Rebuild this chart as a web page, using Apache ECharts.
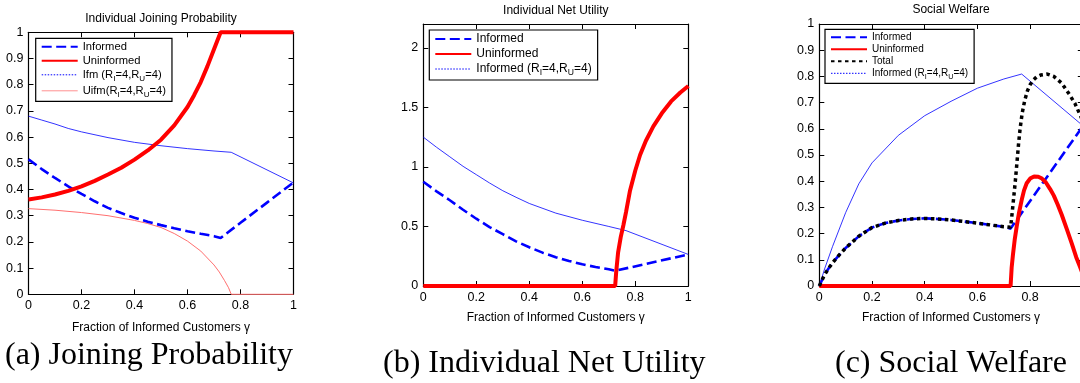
<!DOCTYPE html>
<html>
<head>
<meta charset="utf-8">
<script src="https://cdn.jsdelivr.net/npm/echarts@6/dist/echarts.min.js"></script>
<style>
  html, body { margin: 0; padding: 0; background: #fff; }
  #chart { width: 1080px; height: 383px; }
</style>
</head>
<body>
<div id="chart"></div>
<script>
// ---- (a) Individual joining probability ----
const aInformedX   = [0, 0.05, 0.1, 0.15, 0.2, 0.25, 0.3, 0.35, 0.4, 0.45, 0.5, 0.55, 0.6, 0.65, 0.7, 0.725, 0.8, 0.9, 1];
const aInformedY   = [0.515, 0.478, 0.444, 0.412, 0.383, 0.355, 0.33, 0.31, 0.292, 0.277, 0.264, 0.252, 0.241, 0.231, 0.222, 0.215, 0.273, 0.35, 0.427];
const aUninfX      = [0, 0.05, 0.1, 0.15, 0.2, 0.25, 0.3, 0.35, 0.4, 0.45, 0.5, 0.55, 0.6, 0.625, 0.65, 0.675, 0.7, 0.725, 1];
const aUninfY      = [0.362, 0.37, 0.381, 0.395, 0.412, 0.433, 0.457, 0.483, 0.514, 0.549, 0.59, 0.645, 0.715, 0.76, 0.81, 0.87, 0.935, 1, 1];
const aIfmX        = [0, 0.05, 0.1, 0.15, 0.2, 0.3, 0.4, 0.5, 0.6, 0.7, 0.765, 1];
const aIfmY        = [0.68, 0.665, 0.65, 0.633, 0.62, 0.598, 0.58, 0.567, 0.556, 0.547, 0.542, 0.425];
const aUifmX       = [0, 0.1, 0.2, 0.3, 0.4, 0.45, 0.5, 0.55, 0.6, 0.65, 0.7, 0.72, 0.74, 0.755, 0.765, 1];
const aUifmY       = [0.327, 0.321, 0.312, 0.3, 0.282, 0.27, 0.255, 0.232, 0.203, 0.165, 0.112, 0.085, 0.052, 0.025, 0, 0];

// ---- (b) Individual net utility ----
const bInformedX   = [0, 0.05, 0.1, 0.15, 0.2, 0.25, 0.3, 0.35, 0.4, 0.45, 0.5, 0.55, 0.6, 0.65, 0.7, 0.725, 1];
const bInformedY   = [0.875, 0.795, 0.72, 0.64, 0.565, 0.495, 0.435, 0.375, 0.325, 0.28, 0.242, 0.21, 0.182, 0.16, 0.14, 0.128, 0.265];
const bUninfX      = [0, 0.724, 0.728, 0.735, 0.745, 0.755, 0.765, 0.78, 0.8, 0.818, 0.84, 0.868, 0.9, 0.935, 0.97, 1];
const bUninfY      = [0, 0, 0.12, 0.28, 0.41, 0.51, 0.62, 0.8, 0.97, 1.1, 1.22, 1.34, 1.45, 1.55, 1.625, 1.68];
const bIfmX        = [0, 0.05, 0.1, 0.15, 0.2, 0.25, 0.3, 0.35, 0.4, 0.5, 0.6, 0.7, 0.765, 1];
const bIfmY        = [1.25, 1.165, 1.085, 1.005, 0.935, 0.865, 0.8, 0.745, 0.693, 0.612, 0.552, 0.5, 0.465, 0.265];

// ---- (c) Social welfare ----
const cInformedX   = [0, 0.01, 0.02, 0.035, 0.05, 0.075, 0.1, 0.15, 0.2, 0.25, 0.3, 0.35, 0.4, 0.45, 0.5, 0.6, 0.7, 0.726, 1];
const cInformedY   = [0, 0.022, 0.043, 0.067, 0.088, 0.118, 0.145, 0.19, 0.223, 0.24, 0.25, 0.256, 0.258, 0.256, 0.252, 0.24, 0.226, 0.219, 0.61];
const cUninfX      = [0, 0.726, 0.73, 0.735, 0.742, 0.749, 0.758, 0.768, 0.777, 0.787, 0.8, 0.815, 0.831, 0.845, 0.86, 0.876, 0.89, 0.905, 0.92, 0.94, 0.958, 0.975, 0.989, 1];
const cUninfY      = [0, 0, 0.07, 0.12, 0.18, 0.226, 0.28, 0.328, 0.365, 0.392, 0.41, 0.418, 0.417, 0.41, 0.395, 0.37, 0.345, 0.31, 0.272, 0.215, 0.163, 0.11, 0.074, 0.045];
const cTotalX      = [0, 0.01, 0.02, 0.035, 0.05, 0.075, 0.1, 0.15, 0.2, 0.25, 0.3, 0.35, 0.4, 0.45, 0.5, 0.6, 0.7, 0.726, 0.732, 0.738, 0.743, 0.75, 0.756, 0.762, 0.77, 0.78, 0.79, 0.8, 0.812, 0.825, 0.84, 0.865, 0.89, 0.92, 0.95, 0.97, 0.989, 1];
const cTotalY      = [0, 0.022, 0.043, 0.067, 0.088, 0.118, 0.145, 0.19, 0.223, 0.24, 0.25, 0.256, 0.258, 0.256, 0.252, 0.24, 0.226, 0.224, 0.28, 0.34, 0.39, 0.47, 0.54, 0.6, 0.66, 0.71, 0.745, 0.768, 0.786, 0.798, 0.805, 0.809, 0.8, 0.774, 0.73, 0.697, 0.655, 0.63];
const cIfmX        = [0, 0.02, 0.05, 0.1, 0.15, 0.2, 0.3, 0.4, 0.5, 0.6, 0.7, 0.768, 1];
const cIfmY        = [0, 0.065, 0.15, 0.28, 0.39, 0.47, 0.575, 0.65, 0.705, 0.755, 0.79, 0.809, 0.612];

// ---- text ----
const panelTitles  = ['Individual Joining Probability', 'Individual Net Utility', 'Social Welfare'];
const captions     = ['(a) Joining Probability', '(b) Individual Net Utility', '(c) Social Welfare'];
const xAxisName    = 'Fraction of Informed Customers \u03b3';
const N_INF = 'Informed', N_UNI = 'Uninformed', N_TOT = 'Total';
const N_IFM = 'Ifm (RI=4,RU=4)', N_UIFM = 'Uifm(RI=4,RU=4)', N_INF4 = 'Informed (RI=4,RU=4)';

const SANS = '"Liberation Sans", Arial, Helvetica, sans-serif';
const BLUE = '#0000ff', RED = '#ff0000';

const zip = (xs, ys) => xs.map((x, i) => [x, ys[i]]);

// plot boxes
const boxes = [
  { left: 28.5,  top: 32.3, width: 265,   height: 262 },
  { left: 423.3, top: 24,   width: 265,   height: 262 },
  { left: 819.3, top: 24,   width: 263.5, height: 262 }
];
const yRange = [ {max: 1, interval: 0.1}, {max: 2.2, interval: 0.5}, {max: 1, interval: 0.1} ];

const grid = boxes.map(b => Object.assign({ containLabel: false, outerBoundsMode: 'none' }, b));

// inward tick marks on every side of each box
const ticks = () => ({ show: true, inside: true, length: 5, lineStyle: { color: '#000', width: 1 } });
const border = () => ({ show: true, onZero: false, lineStyle: { color: '#000', width: 1.2 } });

const xAxis = [], yAxis = [];
boxes.forEach((b, i) => {
  xAxis.push({
    type: 'value', gridIndex: i, min: 0, max: 1, interval: 0.2, position: 'bottom',
    axisLine: border(), axisTick: ticks(), splitLine: { show: false },
    axisLabel: { color: '#000', fontSize: 12.5, fontFamily: SANS, margin: 5 },
    name: xAxisName, nameLocation: 'middle', nameGap: i === 0 ? 27 : 26,
    nameTextStyle: { color: '#000', fontSize: 12, fontFamily: SANS }
  });
  xAxis.push({
    type: 'value', gridIndex: i, min: 0, max: 1, interval: 0.2, position: 'top',
    axisLine: border(), axisTick: ticks(), splitLine: { show: false },
    axisLabel: { show: false }
  });
  yAxis.push({
    type: 'value', gridIndex: i, min: 0, max: yRange[i].max, interval: yRange[i].interval, position: 'left',
    axisLine: border(), axisTick: ticks(), splitLine: { show: false },
    axisLabel: { color: '#000', fontSize: 12.5, fontFamily: SANS, margin: 5, showMaxLabel: i !== 1 }
  });
  yAxis.push({
    type: 'value', gridIndex: i, min: 0, max: yRange[i].max, interval: yRange[i].interval, position: 'right',
    axisLine: border(), axisTick: ticks(), splitLine: { show: false },
    axisLabel: { show: false }
  });
});

function line(name, panel, xs, ys, style, z) {
  return {
    type: 'line', name, xAxisIndex: panel * 2, yAxisIndex: panel * 2,
    data: zip(xs, ys), showSymbol: false, symbol: 'none', smooth: false,
    clip: false, z: z || 2, animation: false,
    lineStyle: style, itemStyle: { color: style.color }
  };
}
const dashBlue  = { color: BLUE, width: 2.6, type: [10, 4.5], cap: 'butt' };
const thickRed  = { color: RED, width: 4, type: 'solid' };
const thinBlue  = { color: BLUE, width: 0.8, type: 'solid' };
const thinRed   = { color: '#ff7070', width: 1, type: 'solid' };
const dotBlack  = { color: '#000', width: 3.5, type: [3.5, 3.5], cap: 'butt' };

const series = [
  line(N_UIFM, 0, aUifmX, aUifmY, thinRed, 2),
  line(N_IFM, 0, aIfmX, aIfmY, thinBlue, 2),
  line(N_INF, 0, aInformedX, aInformedY, dashBlue, 3),
  line(N_UNI, 0, aUninfX, aUninfY, thickRed, 4),

  line(N_INF4, 1, bIfmX, bIfmY, thinBlue, 2),
  line(N_INF, 1, bInformedX, bInformedY, dashBlue, 3),
  line(N_UNI, 1, bUninfX, bUninfY, thickRed, 4),

  line(N_INF4, 2, cIfmX, cIfmY, thinBlue, 2),
  line(N_INF, 2, cInformedX, cInformedY, dashBlue, 3),
  line(N_UNI, 2, cUninfX, cUninfY, thickRed, 4),
  line(N_TOT, 2, cTotalX, cTotalY, dotBlack, 5)
];

// legend text with subscripted R_I / R_U
function legendText(name) {
  const parts = name.split(/R([IU])/);
  let out = '';
  parts.forEach((p, i) => {
    if (i % 2 === 1) out += '{s|' + p + '}';
    else if (p.length) out += '{n|' + (i < parts.length - 1 ? p + 'R' : p) + '}';
    else if (i < parts.length - 1) out += '{n|R}';
  });
  return out;
}
function legend(left, top, names, fs, gap) {
  return {
    orient: 'vertical', left, top, itemWidth: 36, itemHeight: 10, itemGap: gap,
    padding: [3, 6, 3, 5], borderColor: '#000', borderWidth: 1.2, backgroundColor: '#fff',
    borderRadius: 0, selectedMode: false,
    itemStyle: { opacity: 0 },
    data: names.map(n => {
      const item = { name: n };
      if (n === N_IFM || n === N_INF4) item.lineStyle = { type: [1.5, 1.5], width: 1, color: BLUE };
      if (n === N_UIFM) item.lineStyle = { type: 'solid', width: 1, color: '#ff9090' };
      return item;
    }),
    formatter: legendText,
    textStyle: {
      color: '#000', fontFamily: SANS, fontSize: fs,
      rich: {
        n: { fontSize: fs, fontFamily: SANS, color: '#000' },
        s: { fontSize: fs * 0.72, fontFamily: SANS, color: '#000', padding: [7, 0, 0, 0] }
      }
    }
  };
}

const option = {
  backgroundColor: '#fff',
  animation: false,
  title: [
    { text: panelTitles[0], left: 161,   top: 13, textAlign: 'center' },
    { text: panelTitles[1], left: 555.8, top: 5,  textAlign: 'center' },
    { text: panelTitles[2], left: 951,   top: 4,  textAlign: 'center' }
  ].map(t => Object.assign(t, { padding: 0, textStyle: { fontSize: 12, fontWeight: 'normal', color: '#000', fontFamily: SANS } })),
  grid, xAxis, yAxis, series,
  legend: [
    legend(35.7, 38.3, [N_INF, N_UNI, N_IFM, N_UIFM], 11.2, 3),
    legend(429.3, 30, [N_INF, N_UNI, N_INF4], 12, 3),
    legend(825, 29.3, [N_INF, N_UNI, N_TOT, N_INF4], 10, 2)
  ],
  graphic: captions.map((c, i) => ({
    type: 'text', x: [5, 383, 835][i], y: [356, 364, 364][i], silent: true,
    style: { text: c, font: '32px "Liberation Serif", "Times New Roman", serif', fill: '#000', textVerticalAlign: 'middle', verticalAlign: 'middle' }
  }))
};

const chart = echarts.init(document.getElementById('chart'), null, { renderer: 'canvas' });
chart.setOption(option);
</script>
</body>
</html>
